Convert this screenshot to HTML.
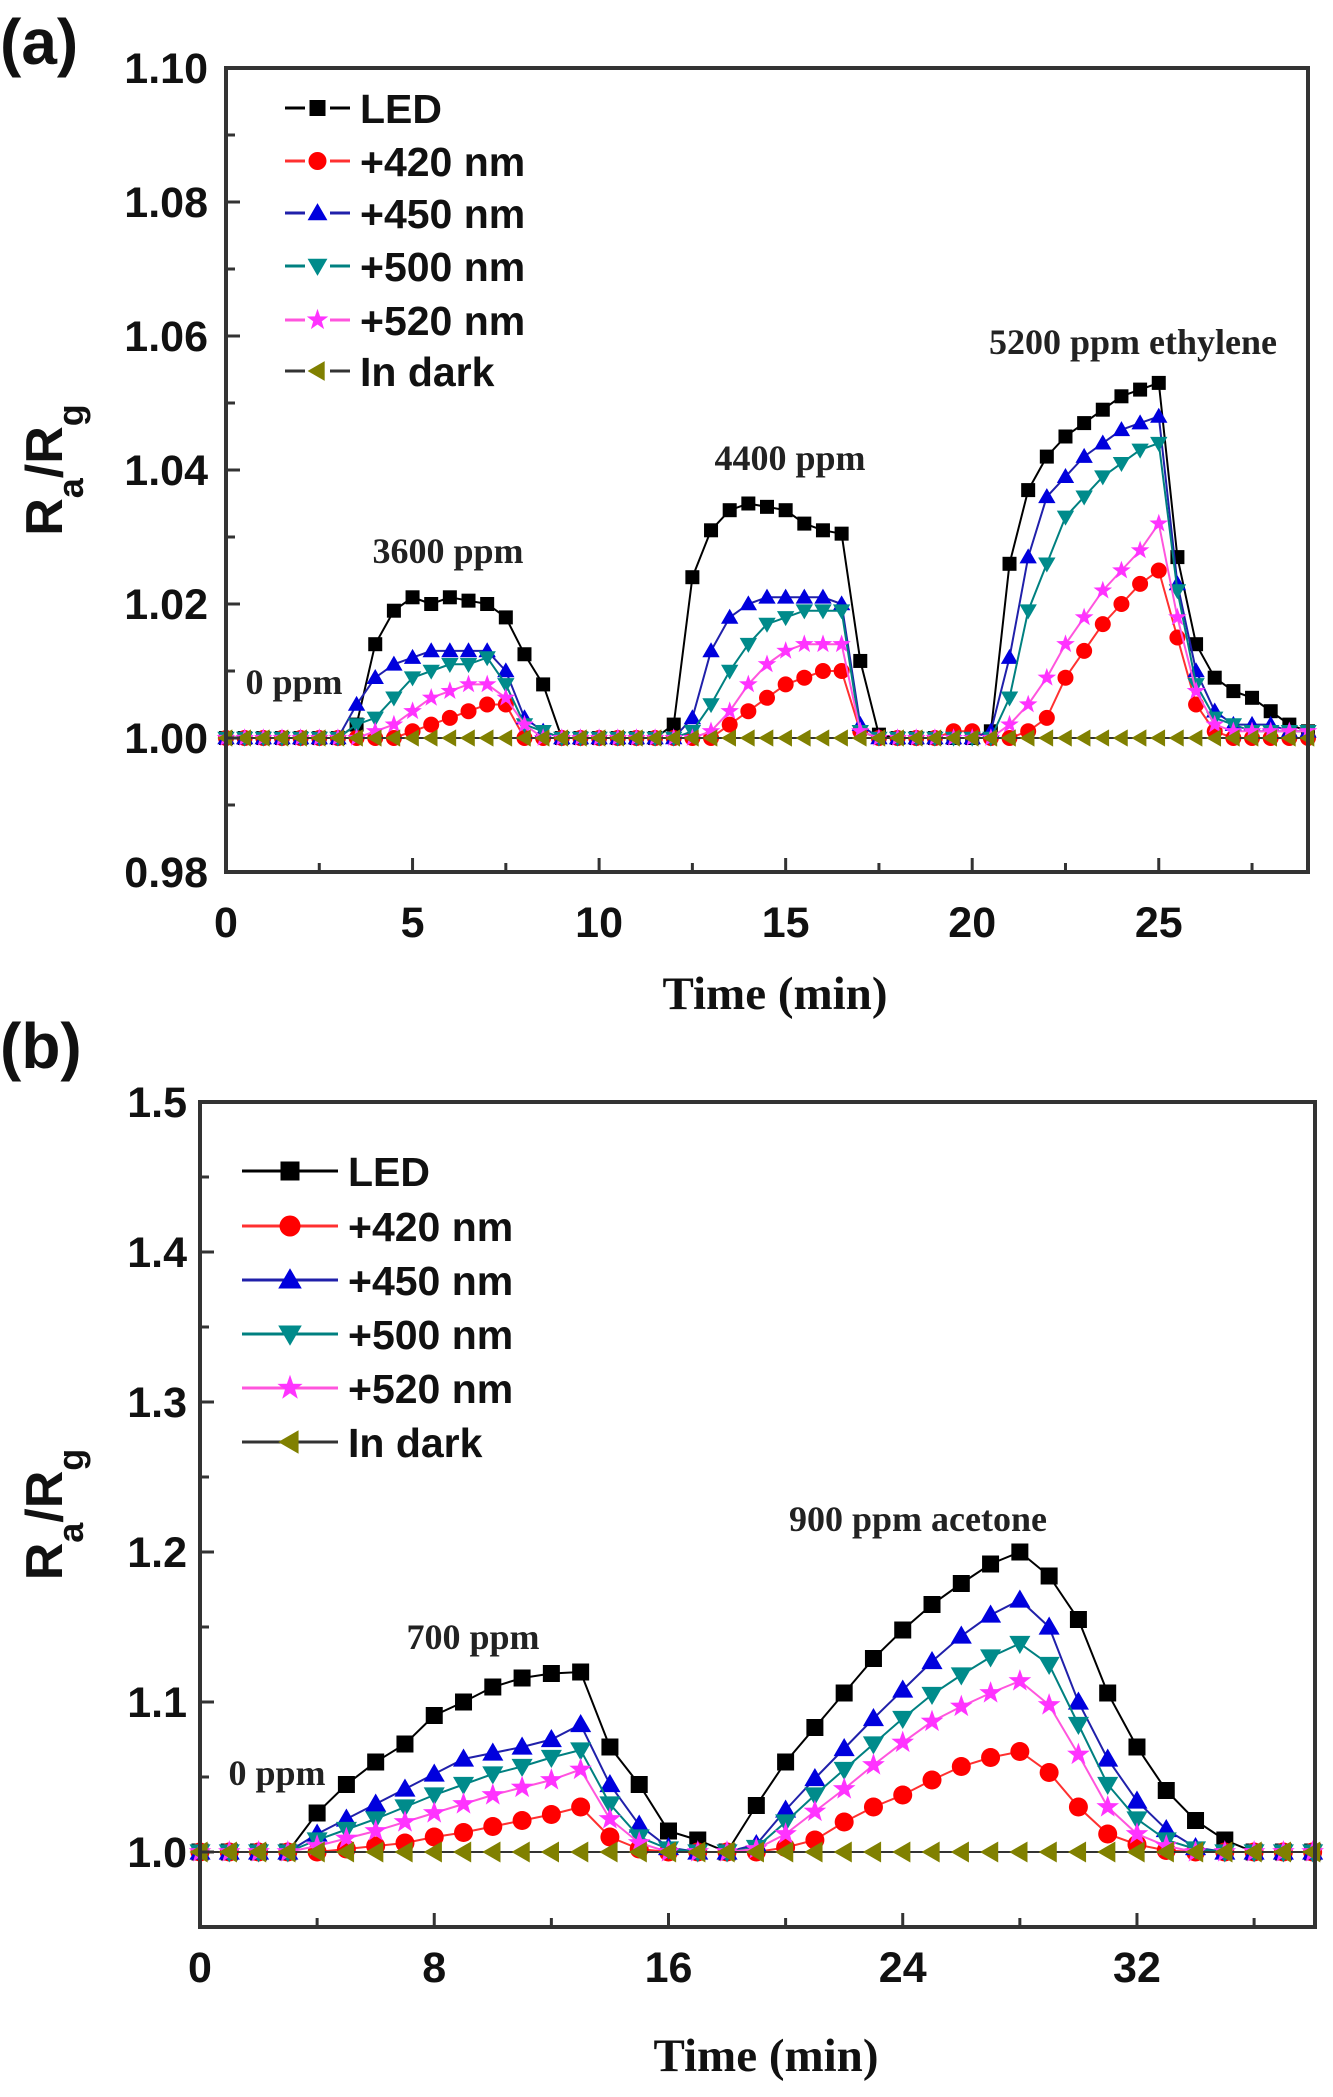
<!DOCTYPE html>
<html><head><meta charset="utf-8"><style>
html,body{margin:0;padding:0;background:#fff;}
svg{display:block;}
.tk{font-family:"Liberation Sans",Arial,sans-serif;font-weight:bold;font-size:43px;fill:#111;}
.lg{font-family:"Liberation Sans",Arial,sans-serif;font-weight:bold;font-size:41px;fill:#111;}
.an{font-family:"Liberation Serif",serif;font-weight:bold;font-size:36px;fill:#222;}
.ti{font-family:"Liberation Serif",serif;font-weight:bold;font-size:47px;fill:#111;}
.pl{font-family:"Liberation Sans",sans-serif;font-weight:bold;font-size:64px;fill:#111;}
</style></head><body>
<svg id="fig" width="1333" height="2097" viewBox="0 0 1333 2097" xmlns="http://www.w3.org/2000/svg">
<text class="pl" x="0" y="64">(a)</text>
<text class="pl" x="0" y="1068">(b)</text>
<g id="ga"></g>
<g id="gb"></g>
</svg>
<script>
// ---------- Chart (a) data: t = 0..29 step 0.5 ----------
const timeA = [0,0.5,1,1.5,2,2.5,3,3.5,4,4.5,5,5.5,6,6.5,7,7.5,8,8.5,9,9.5,10,10.5,11,11.5,12,12.5,13,13.5,14,14.5,15,15.5,16,16.5,17,17.5,18,18.5,19,19.5,20,20.5,21,21.5,22,22.5,23,23.5,24,24.5,25,25.5,26,26.5,27,27.5,28,28.5,29];
const ledA =  [1,1,1,1,1,1,1,1.002,1.014,1.019,1.021,1.020,1.021,1.0205,1.020,1.018,1.0125,1.008,1,1,1,1,1,1,1.002,1.024,1.031,1.034,1.035,1.0345,1.034,1.032,1.031,1.0305,1.0115,1.0005,1,1,1,1,1,1.001,1.026,1.037,1.042,1.045,1.047,1.049,1.051,1.052,1.053,1.027,1.014,1.009,1.007,1.006,1.004,1.002,1.001];
const n420A = [1,1,1,1,1,1,1,1,1,1,1.001,1.002,1.003,1.004,1.005,1.005,1,1,1,1,1,1,1,1,1,1,1,1.002,1.004,1.006,1.008,1.009,1.010,1.010,1.001,1,1,1,1,1.001,1.001,1,1,1.001,1.003,1.009,1.013,1.017,1.020,1.023,1.025,1.015,1.005,1.001,1,1,1,1,1];
const n450A = [1,1,1,1,1,1,1,1.005,1.009,1.011,1.012,1.013,1.013,1.013,1.013,1.010,1.003,1.001,1,1,1,1,1,1,1,1.003,1.013,1.018,1.020,1.021,1.021,1.021,1.021,1.020,1.002,1,1,1,1,1,1,1.001,1.012,1.027,1.036,1.039,1.042,1.044,1.046,1.047,1.048,1.023,1.010,1.004,1.002,1.002,1.002,1.001,1.001];
const n500A = [1,1,1,1,1,1,1,1.002,1.003,1.006,1.009,1.010,1.011,1.011,1.012,1.008,1.002,1.001,1,1,1,1,1,1,1,1.001,1.005,1.010,1.014,1.017,1.018,1.019,1.019,1.019,1.001,1,1,1,1,1,1,1,1.006,1.019,1.026,1.033,1.036,1.039,1.041,1.043,1.044,1.022,1.008,1.003,1.002,1.001,1.001,1.001,1.001];
const n520A = [1,1,1,1,1,1,1,1,1.001,1.002,1.004,1.006,1.007,1.008,1.008,1.006,1.002,1,1,1,1,1,1,1,1,1,1.001,1.004,1.008,1.011,1.013,1.014,1.014,1.014,1.001,1,1,1,1,1,1,1,1.002,1.005,1.009,1.014,1.018,1.022,1.025,1.028,1.032,1.018,1.007,1.002,1.001,1.001,1.001,1.001,1.001];
const darkA = timeA.map(()=>1.0);
const yTicksA = [0.98,1.00,1.02,1.04,1.06,1.08,1.10];
const yTickLabelsA = ["0.98","1.00","1.02","1.04","1.06","1.08","1.10"];
const xTicksA = [0,5,10,15,20,25];

// ---------- Chart (b) data: t = 0..38 step 1 ----------
const timeB = [0,1,2,3,4,5,6,7,8,9,10,11,12,13,14,15,16,17,18,19,20,21,22,23,24,25,26,27,28,29,30,31,32,33,34,35,36,37,38];
const ledB =  [1,1,1,1,1.026,1.045,1.060,1.072,1.091,1.100,1.110,1.116,1.119,1.120,1.070,1.045,1.014,1.008,1,1.031,1.060,1.083,1.106,1.129,1.148,1.165,1.179,1.192,1.200,1.184,1.155,1.106,1.070,1.041,1.021,1.008,1,1,1];
const n420B = [1,1,1,1,1,1.002,1.004,1.006,1.010,1.013,1.017,1.021,1.025,1.030,1.010,1.002,1,1,1,1,1.003,1.008,1.020,1.030,1.038,1.048,1.057,1.063,1.067,1.053,1.030,1.012,1.005,1.001,1,1,1,1,1];
const n450B = [1,1,1,1,1.012,1.022,1.032,1.042,1.052,1.062,1.066,1.070,1.075,1.085,1.045,1.018,1.003,1,1,1.005,1.028,1.049,1.069,1.089,1.108,1.127,1.144,1.158,1.168,1.150,1.100,1.062,1.034,1.015,1.003,1,1,1,1];
const n500B = [1,1,1,1,1.008,1.015,1.022,1.030,1.038,1.045,1.052,1.057,1.063,1.068,1.032,1.010,1.002,1,1,1.003,1.020,1.038,1.055,1.072,1.089,1.105,1.118,1.130,1.139,1.125,1.085,1.045,1.022,1.008,1.002,1,1,1,1];
const n520B = [1,1,1,1,1.004,1.009,1.014,1.020,1.026,1.032,1.038,1.043,1.048,1.055,1.022,1.006,1,1,1,1.002,1.012,1.027,1.042,1.058,1.073,1.087,1.097,1.106,1.114,1.098,1.065,1.030,1.012,1.004,1,1,1,1,1];
const darkB = timeB.map(()=>1.0);
const yTicksB = [1.0,1.1,1.2,1.3,1.4,1.5];
const yTickLabelsB = ["1.0","1.1","1.2","1.3","1.4","1.5"];
const xTicksB = [0,8,16,24,32];

const seriesNames = ["LED","+420 nm","+450 nm","+500 nm","+520 nm","In dark"];
const NS="http://www.w3.org/2000/svg";
function mk(tag, attrs, parent){const e=document.createElementNS(NS,tag);for(const k in attrs)e.setAttribute(k,attrs[k]);parent.appendChild(e);return e;}

const styles=[
 {c:"#000",m:"sq",fill:"#000",line:"#000"},
 {c:"#ff0000",m:"ci",fill:"#ff0000",line:"#ff3030"},
 {c:"#0000cc",m:"tu",fill:"#0000dd",line:"#2020aa"},
 {c:"#008080",m:"td",fill:"#008b8b",line:"#008080"},
 {c:"#ff00ff",m:"st",fill:"#ff33ff",line:"#ff55dd"},
 {c:"#808000",m:"tl",fill:"#808000",line:"#333"}
];
function marker(g,type,x,y,s,fill){
  let e;
  if(type==="sq"){e=mk("rect",{x:x-s/2,y:y-s/2,width:s,height:s,fill:fill},g);}
  else if(type==="ci"){e=mk("circle",{cx:x,cy:y,r:s/2+1,fill:fill},g);}
  else if(type==="tu"){e=mk("polygon",{points:`${x},${y-s*0.62} ${x-s*0.62},${y+s*0.45} ${x+s*0.62},${y+s*0.45}`,fill:fill},g);}
  else if(type==="td"){e=mk("polygon",{points:`${x},${y+s*0.62} ${x-s*0.62},${y-s*0.45} ${x+s*0.62},${y-s*0.45}`,fill:fill},g);}
  else if(type==="tl"){e=mk("polygon",{points:`${x-s*0.62},${y} ${x+s*0.45},${y-s*0.62} ${x+s*0.45},${y+s*0.62}`,fill:fill},g);}
  else {let p=[];for(let i=0;i<10;i++){const r=i%2?s*0.28:s*0.7;const a=-Math.PI/2+i*Math.PI/5;p.push((x+r*Math.cos(a)).toFixed(1)+","+(y+r*Math.sin(a)).toFixed(1));}
    e=mk("polygon",{points:p.join(" "),fill:fill},g);}
  
  
  return e;
}

function drawChart(g,cfg){
  const X=v=>cfg.x0+(v-cfg.xmin)*(cfg.x1-cfg.x0)/(cfg.xmax-cfg.xmin);
  const Y=v=>cfg.y1-(v-cfg.ymin)*(cfg.y1-cfg.y0)/(cfg.ymax-cfg.ymin);
  cfg.series.forEach((vals,si)=>{
    const st=styles[si];
    const sg=mk("g",{},g);
    
    
    const pts=vals.map((v,i)=>X(cfg.t[i]).toFixed(1)+","+Y(v).toFixed(1)).join(" ");
    const pl=mk("polyline",{points:pts,fill:"none",stroke:st.line,"stroke-width":2},sg);
    
    
    vals.forEach((v,i)=>marker(sg,st.m,X(cfg.t[i]),Y(v),cfg.ms,st.fill));
  });
  const box=mk("rect",{x:cfg.x0,y:cfg.y0,width:cfg.x1-cfg.x0,height:cfg.y1-cfg.y0,fill:"none",stroke:"#333","stroke-width":4},g);
  
  
  cfg.yTicks.forEach((v,i)=>{
    mk("line",{x1:cfg.x0,x2:cfg.x0+14,y1:Y(v),y2:Y(v),stroke:"#333","stroke-width":3},g);
    const t=mk("text",{x:cfg.ylabX,y:Y(v)+15,"text-anchor":"end",class:"tk"},g);
    t.textContent=cfg.yLabels[i];
    
    
    if(i<cfg.yTicks.length-1){const m=(v+cfg.yTicks[i+1])/2;mk("line",{x1:cfg.x0,x2:cfg.x0+9,y1:Y(m),y2:Y(m),stroke:"#333","stroke-width":3},g);}
  });
  cfg.xTicks.forEach((v,i)=>{
    mk("line",{x1:X(v),x2:X(v),y1:cfg.y1,y2:cfg.y1-14,stroke:"#333","stroke-width":3},g);
    const t=mk("text",{x:X(v),y:cfg.y1+cfg.xlabDy,"text-anchor":"middle",class:"tk"},g);
    t.textContent=String(v);
    
    
    const step=cfg.xTicks[1]-cfg.xTicks[0];const m=v+step/2;
    if(m<cfg.xmax) mk("line",{x1:X(m),x2:X(m),y1:cfg.y1,y2:cfg.y1-9,stroke:"#333","stroke-width":3},g);
  });
  const yt=mk("text",{transform:`translate(${cfg.ytX},${(cfg.y0+cfg.y1)/2}) rotate(-90)`,"text-anchor":"middle",class:"tk",style:"font-size:52px"},g);
  yt.innerHTML='R<tspan baseline-shift="sub" font-size="36">a</tspan>/R<tspan baseline-shift="sub" font-size="36">g</tspan>';
  
  
  const xt=mk("text",{x:cfg.xtX,y:cfg.xtY,"text-anchor":"middle",class:"ti"},g);
  xt.textContent="Time (min)";
  
  
  seriesNames.forEach((nm,i)=>{
    const st=styles[i];const ly=cfg.lgY[i];
    const lgG=mk("g",{},g);
    
    
    mk("line",{x1:cfg.lgX0,x2:cfg.lgX1,y1:ly,y2:ly,stroke:st.line,"stroke-width":3,"stroke-dasharray":cfg.lgDash},lgG);
    marker(lgG,st.m,(cfg.lgX0+cfg.lgX1)/2,ly,cfg.ms+2,st.fill);
    const t=mk("text",{x:cfg.lgX1+10,y:ly+15,class:"lg"},lgG);
    t.textContent=nm;
  });
  cfg.ann.forEach(a=>{
    const t=mk("text",{x:a[1],y:a[2],"text-anchor":"middle",class:"an"},g);
    t.textContent=a[0];
    
    
  });
}

drawChart(document.getElementById("ga"),{
  x0:226,x1:1308,y0:68,y1:872,xmin:0,xmax:29,ymin:0.98,ymax:1.10,
  t:timeA,series:[ledA,n420A,n450A,n500A,n520A,darkA],ms:14,
  yTicks:yTicksA,yLabels:yTickLabelsA,xTicks:xTicksA,ylabX:208,xlabDy:65,
  ytX:62,xtX:775,xtY:1009,
  lgX0:285,lgX1:350,lgY:[108,161,213,266,320,371],lgDash:"20 25 20",
  ann:[["0 ppm",294,694],["3600 ppm",448,563],["4400 ppm",790,470],["5200 ppm ethylene",1133,354]]
});
drawChart(document.getElementById("gb"),{
  x0:200,x1:1315,y0:1102,y1:1927,xmin:0,xmax:38.08,ymin:0.95,ymax:1.5,
  t:timeB,series:[ledB,n420B,n450B,n500B,n520B,darkB],ms:17,
  yTicks:yTicksB,yLabels:yTickLabelsB,xTicks:xTicksB,ylabX:187,xlabDy:55,
  ytX:62,xtX:766,xtY:2071,
  lgX0:242,lgX1:338,lgY:[1171,1226,1280,1334,1388,1442],lgDash:"none",
  ann:[["0 ppm",277,1785],["700 ppm",473,1649],["900 ppm acetone",918,1531]]
});
</script>
</body></html>
